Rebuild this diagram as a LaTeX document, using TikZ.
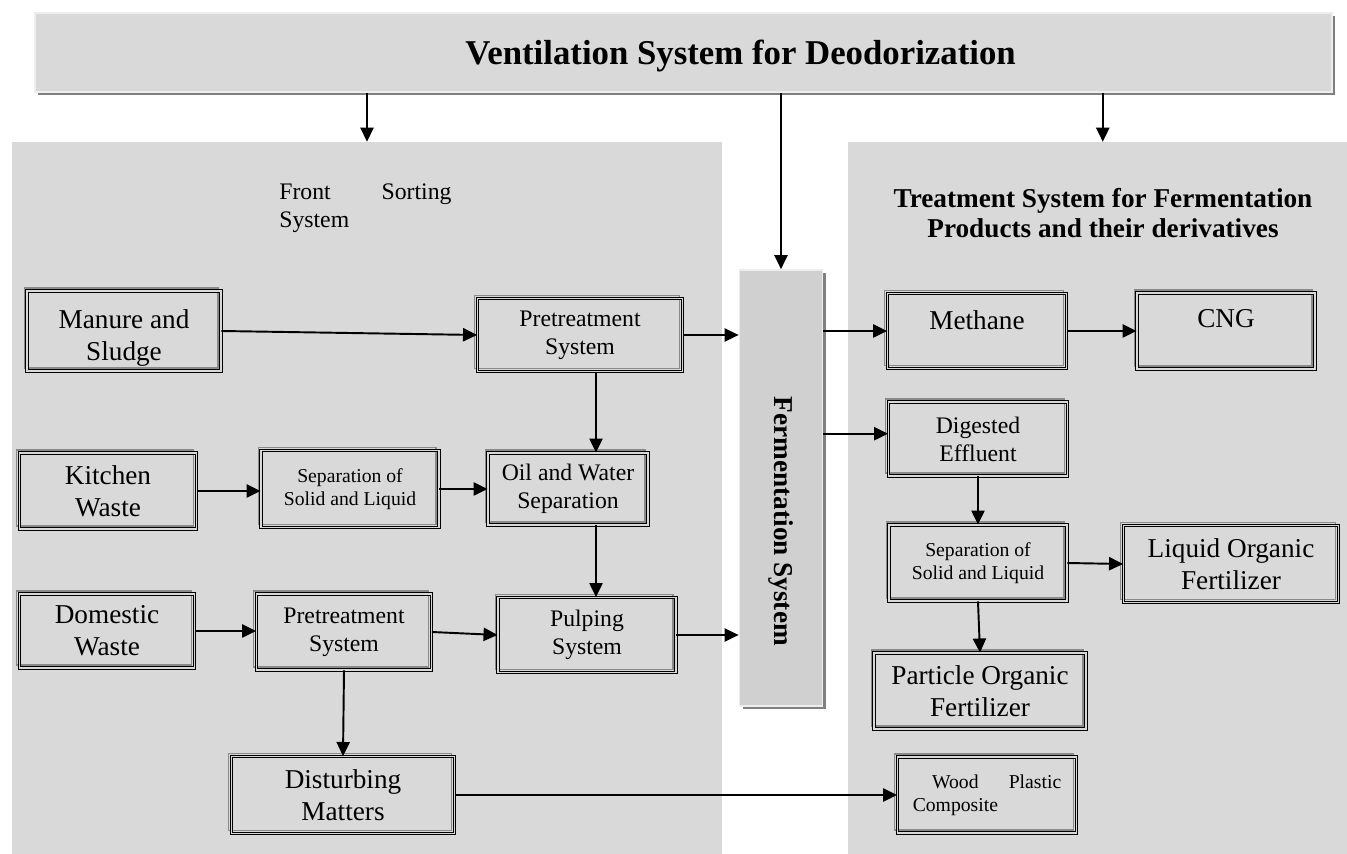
\documentclass[tikz,border=0pt]{standalone}
\usepackage{fontspec}
\setmainfont{Liberation Serif}
\usetikzlibrary{arrows.meta,positioning,calc,shadows}
\definecolor{panel}{HTML}{D9D9D9}
\definecolor{fermfill}{HTML}{D0D0D0}
\definecolor{shade}{HTML}{808080}
\definecolor{rim}{HTML}{EDEDED}
\definecolor{ghost}{HTML}{8A8A8A}
\tikzset{
  zone/.style={fill=panel, inner sep=0pt},
  banner/.style={fill=panel, draw=rim, line width=1pt, inner sep=0pt,
                 drop shadow={shadow xshift=1.8pt, shadow yshift=-1.8pt, fill=shade, opacity=1}},
  unit/.style={draw=black, double=panel, double distance=1.1pt, line width=0.5pt,
               align=center, inner sep=2pt,
               preaction={draw=ghost, line width=0.6pt,
                          transform canvas={shift={(-1.7pt,1.7pt)}}}},
  bigtxt/.style={font=\fontsize{15.5}{18}\selectfont},
  midtxt/.style={font=\fontsize{13.5}{16}\selectfont},
  smalltxt/.style={font=\fontsize{11.2}{13}\selectfont},
  flow/.style={-{Triangle[length=8pt,width=7.5pt]}, line width=1.1pt}
}

\begin{document}
\begin{tikzpicture}[x=0.02cm,y=-0.02cm]
    \useasboundingbox (0,0) rectangle (1347,854);

    % Backgrounds
    \node[zone, minimum width=14.2cm, minimum height=14.24cm] (lpanel) at (367,498) {};
    \node[zone, minimum width=9.98cm, minimum height=14.24cm] (rpanel) at (1097.5,498) {};
    \node[banner, minimum width=25.94cm, minimum height=1.58cm,
          font=\fontsize{19.8}{22}\selectfont\bfseries] (vent) at (683.5,52.5)
      {\hspace*{65pt}\raisebox{-2pt}[\height][\depth]{Ventilation System for Deodorization}};
    % rotated: west is the top side, south the left side, north the right side
    \node[banner, fill=fermfill, rotate=-90, minimum width=8.72cm, minimum height=1.66cm,
          font=\fontsize{15.5}{18}\selectfont\bfseries] (ferm) at (781,488)
      {\hspace*{38pt}Fermentation System};

    % Panel titles
    \node[midtxt, anchor=north west, inner sep=0pt, text width=98pt, align=left] (front) at (279,183)
      {Front\hfill Sorting\\System};
    \node[font=\fontsize{15.5}{17.5}\selectfont\bfseries, align=center] (treat) at (1103,213)
      {Treatment System for Fermentation\\Products and their derivatives};

    % Front sorting boxes
    \node[unit, bigtxt, minimum width=3.88cm, minimum height=1.60cm] (manure) at (124,331)
      {\raisebox{-4pt}[\height][\depth]{Manure and}\\\raisebox{-4pt}[\height][\depth]{Sludge}};
    \node[unit, midtxt, minimum width=4.10cm, minimum height=1.46cm] (pre1) at (580,335) {Pretreatment\\System};
    \node[unit, bigtxt, minimum width=3.54cm, minimum height=1.52cm] (kitchen) at (108,491) {Kitchen\\Waste};
    \node[unit, smalltxt, minimum width=3.56cm, minimum height=1.54cm] (sep1) at (350,489) {Separation of\\Solid and Liquid};
    \node[unit, midtxt, minimum width=3.20cm, minimum height=1.44cm] (oil) at (568,489) {Oil and Water\\Separation};
    \node[unit, bigtxt, minimum width=3.50cm, minimum height=1.48cm] (domestic) at (107,631) {Domestic\\Waste};
    \node[unit, midtxt, minimum width=3.50cm, minimum height=1.52cm] (pre2) at (344,632) {Pretreatment\\System};
    \node[unit, midtxt, minimum width=3.56cm, minimum height=1.50cm] (pulp) at (587,635) {Pulping\\System};
    \node[unit, bigtxt, minimum width=4.46cm, minimum height=1.54cm] (disturb) at (343,795) {Disturbing\\Matters};
    \coordinate (oilx) at (596,0);

    % Product boxes
    \node[unit, bigtxt, minimum width=3.58cm, minimum height=1.50cm] (methane) at (977,331)
      {\raisebox{6pt}[\height][\depth]{Methane}};
    \node[unit, bigtxt, minimum width=3.56cm, minimum height=1.52cm] (cng) at (1226,331)
      {\raisebox{7pt}[\height][\depth]{CNG}};
    \node[unit, midtxt, minimum width=3.58cm, minimum height=1.48cm] (digest) at (978,439) {Digested\\Effluent};
    \node[unit, smalltxt, minimum width=3.56cm, minimum height=1.52cm] (sep2) at (978,563) {Separation of\\Solid and Liquid};
    \node[unit, bigtxt, minimum width=4.30cm, minimum height=1.54cm] (liquid) at (1231,564) {Liquid Organic\\Fertilizer};
    \node[unit, bigtxt, minimum width=4.24cm, minimum height=1.52cm] (particle) at (980,691) {Particle Organic\\Fertilizer};
    \node[unit, smalltxt, minimum width=3.58cm, minimum height=1.52cm, text width=84.5pt, align=left] (wood) at (987,795)
      {\hspace*{11pt}Wood\hfill Plastic\\Composite};

    % Ventilation feeds
    \draw[flow] (lpanel.north |- vent.south) -- (lpanel.north);
    \draw[flow] (ferm.west |- vent.south) -- (ferm.west);
    \draw[flow] ([xshift=3pt]rpanel.north |- vent.south) -- ([xshift=3pt]rpanel.north);

    % Front sorting flow
    \draw[flow] (manure.east) -- (pre1.west);
    \draw[flow] (pre1.east) -- (pre1.east -| ferm.south);
    \draw[flow] (pre1.south -| oilx) -- (oil.north -| oilx);
    \draw[flow] (kitchen.east) -- (kitchen.east -| sep1.west);
    \draw[flow] (sep1.east) -- (oil.west);
    \draw[flow] (oil.south -| oilx) -- (pulp.north -| oilx);
    \draw[flow] (domestic.east) -- (domestic.east -| pre2.west);
    \draw[flow] (pre2.east) -- (pulp.west);
    \draw[flow] (pulp.east) -- (pulp.east -| ferm.south);
    \draw[flow] (pre2.south) -- (disturb.north);
    \draw[flow] (disturb.east) -- (wood.west);

    % Products flow
    \draw[flow] (methane.west -| ferm.north) -- (methane.west);
    \draw[flow] ([yshift=3pt]digest.west -| ferm.north) -- ([yshift=3pt]digest.west);
    \draw[flow] (methane.east) -- (cng.west);
    \draw[flow] (digest.south) -- (sep2.north);
    \draw[flow] (sep2.east) -- (liquid.west);
    \draw[flow] (sep2.south) -- (particle.north);
\end{tikzpicture}
\end{document}
